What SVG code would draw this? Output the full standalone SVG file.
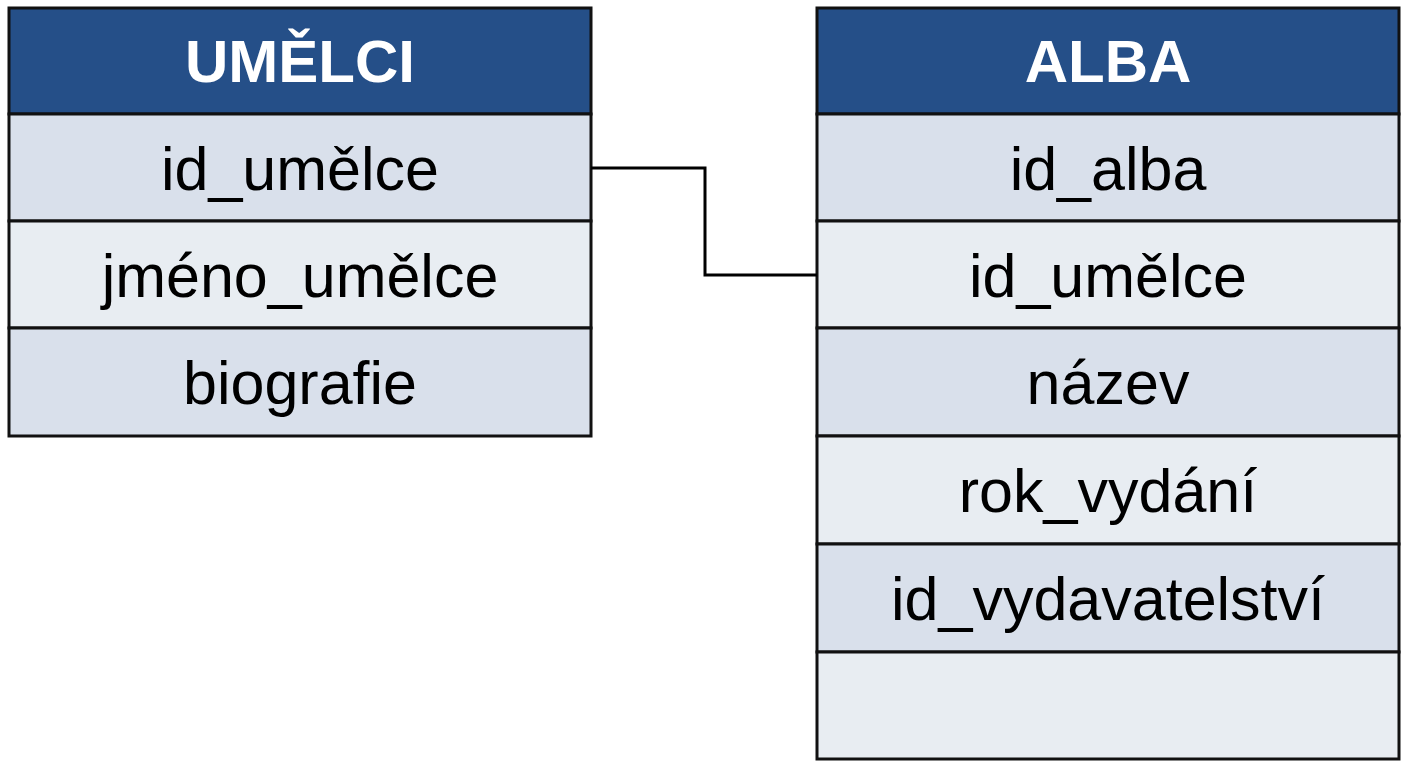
<svg xmlns="http://www.w3.org/2000/svg" width="1408" height="768" viewBox="0 0 1408 768">
<style>
.hdr{fill:#254f88;stroke:#111;stroke-width:3}
.r1{fill:#d9e0eb;stroke:#111;stroke-width:3}
.r2{fill:#e8edf2;stroke:#111;stroke-width:3}
.ht{font-family:"Liberation Sans",Arial,sans-serif;font-weight:bold;font-size:60px;fill:#fff;text-anchor:middle}
.t{font-family:"Liberation Sans",Arial,sans-serif;font-size:61px;fill:#000;text-anchor:middle}
.edge{fill:none;stroke:#000;stroke-width:3}
</style>
<rect width="1408" height="768" fill="#fff"/>
<g id="umelci">
<rect class="hdr" x="9" y="8" width="582" height="106"/>
<text class="ht" x="300" y="82">UMĚLCI</text>
<rect class="r1" x="9" y="114" width="582" height="107"/>
<text class="t" x="300" y="190">id_umělce</text>
<rect class="r2" x="9" y="221" width="582" height="107"/>
<text class="t" x="300" y="297">jméno_umělce</text>
<rect class="r1" x="9" y="328" width="582" height="108"/>
<text class="t" x="300" y="404">biografie</text>
</g>
<g id="alba">
<rect class="hdr" x="817" y="8" width="582" height="106"/>
<text class="ht" x="1108" y="82">ALBA</text>
<rect class="r1" x="817" y="114" width="582" height="107"/>
<text class="t" x="1108" y="190">id_alba</text>
<rect class="r2" x="817" y="221" width="582" height="107"/>
<text class="t" x="1108" y="297">id_umělce</text>
<rect class="r1" x="817" y="328" width="582" height="108"/>
<text class="t" x="1108" y="404">název</text>
<rect class="r2" x="817" y="436" width="582" height="108"/>
<text class="t" x="1108" y="512">rok_vydání</text>
<rect class="r1" x="817" y="544" width="582" height="108"/>
<text class="t" x="1108" y="620">id_vydavatelství</text>
<rect class="r2" x="817" y="652" width="582" height="107"/>
</g>
<g id="connectors">
<polyline class="edge" points="591,168 705,168 705,275 817,275"/>
</g>
</svg>
